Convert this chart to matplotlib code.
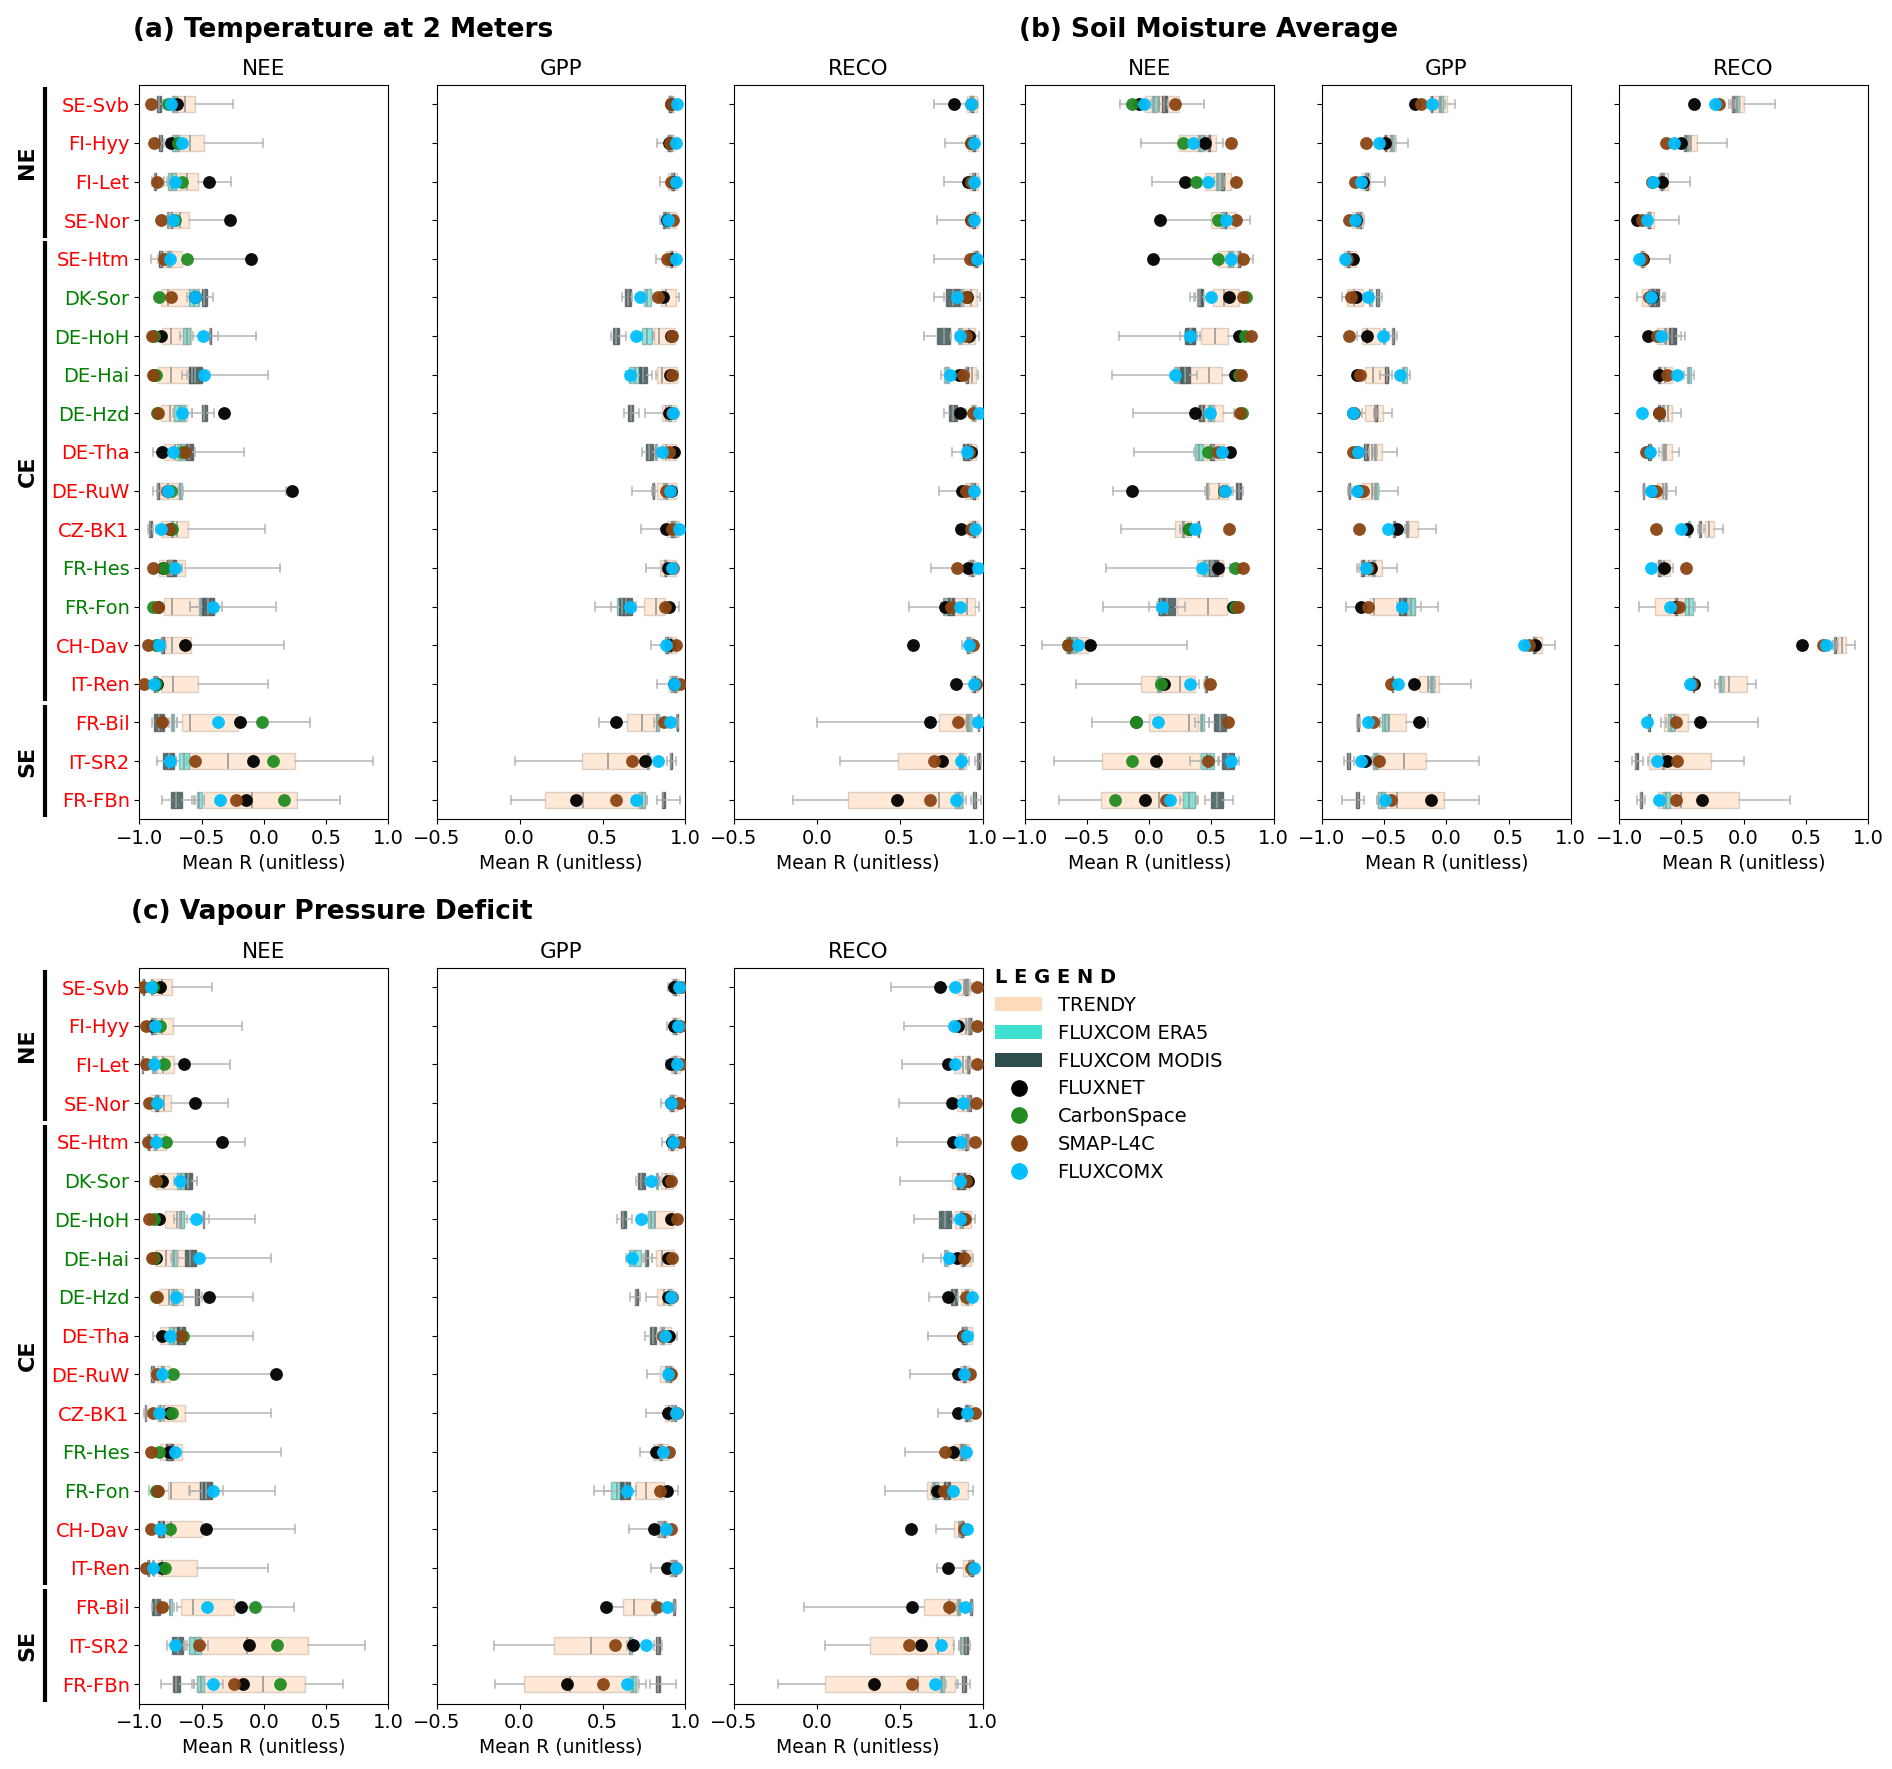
import matplotlib
matplotlib.use("Agg")
import matplotlib.pyplot as plt
from matplotlib.patches import Patch
from matplotlib.lines import Line2D
import matplotlib.transforms as mtransforms

# Sites (top to bottom) and label colours
sites = ['SE-Svb', 'FI-Hyy', 'FI-Let', 'SE-Nor', 'SE-Htm', 'DK-Sor', 'DE-HoH', 'DE-Hai', 'DE-Hzd',
         'DE-Tha', 'DE-RuW', 'CZ-BK1', 'FR-Hes', 'FR-Fon', 'CH-Dav', 'IT-Ren', 'FR-Bil', 'IT-SR2', 'FR-FBn']
site_colors = ['red', 'red', 'red', 'red', 'red', 'green', 'green', 'green', 'green',
               'red', 'red', 'red', 'green', 'green', 'red', 'red', 'red', 'red', 'red']
groups = [('NE', 0, 3), ('CE', 4, 15), ('SE', 16, 18)]

# ---------------- (a) Temperature at 2 Meters ----------------
# TRENDY boxes: (whisker low, q1, median, q3, whisker high)
T2M_NEE_TRENDY = [(-0.80, -0.73, -0.635, -0.55, -0.25), (-0.78, -0.73, -0.595, -0.48, -0.01),
                  (-0.80, -0.765, -0.615, -0.53, -0.26), (-0.80, -0.78, -0.675, -0.60, -0.30),
                  (-0.905, -0.84, -0.76, -0.655, -0.11), (-0.85, -0.83, -0.77, -0.60, -0.55),
                  (-0.85, -0.815, -0.745, -0.585, -0.06), (-0.88, -0.85, -0.75, -0.50, 0.03),
                  (-0.85, -0.83, -0.757, -0.62, -0.58), (-0.89, -0.80, -0.715, -0.57, -0.16),
                  (-0.89, -0.857, -0.77, -0.667, 0.175), (-0.87, -0.83, -0.70, -0.61, 0.01),
                  (-0.87, -0.84, -0.76, -0.635, 0.13), (-0.85, -0.80, -0.735, -0.40, 0.095),
                  (-0.93, -0.825, -0.735, -0.585, 0.16), (-0.88, -0.825, -0.73, -0.53, 0.035),
                  (-0.70, -0.66, -0.59, -0.21, 0.37), (-0.62, -0.60, -0.29, 0.25, 0.88),
                  (-0.55, -0.485, -0.095, 0.265, 0.615)]
# FLUXCOM boxes: (whisker low, q1, q3, whisker high)
T2M_NEE_ERA5 = [(-0.75, -0.74, -0.70, -0.69), (-0.75, -0.74, -0.68, -0.66), (-0.78, -0.77, -0.71, -0.70),
                (-0.79, -0.78, -0.76, -0.75), (-0.79, -0.78, -0.75, -0.74), (-0.62, -0.60, -0.52, -0.50),
                (-0.67, -0.65, -0.59, -0.57), (-0.62, -0.60, -0.55, -0.53), (-0.73, -0.72, -0.63, -0.62),
                (-0.71, -0.70, -0.635, -0.62), (-0.69, -0.68, -0.66, -0.65), (-0.76, -0.75, -0.73, -0.72),
                (-0.76, -0.75, -0.72, -0.71), (-0.59, -0.52, -0.49, -0.47), (-0.84, -0.83, -0.81, -0.80),
                (-0.88, -0.87, -0.85, -0.84), (-0.76, -0.745, -0.72, -0.70), (-0.71, -0.685, -0.605, -0.59),
                (-0.56, -0.54, -0.495, -0.48)]
T2M_NEE_MODIS = [(-0.87, -0.86, -0.825, -0.81), (-0.86, -0.84, -0.815, -0.80), (-0.90, -0.886, -0.87, -0.86),
                 (-0.75, -0.745, -0.735, -0.73), (-0.85, -0.84, -0.82, -0.81), (-0.53, -0.50, -0.46, -0.41),
                 (-0.44, -0.435, -0.425, -0.365), (-0.66, -0.60, -0.50, -0.48), (-0.58, -0.50, -0.455, -0.40),
                 (-0.65, -0.627, -0.57, -0.55), (-0.86, -0.855, -0.84, -0.83), (-0.93, -0.925, -0.90, -0.89),
                 (-0.80, -0.78, -0.71, -0.66), (-0.59, -0.50, -0.40, -0.34), (-0.82, -0.815, -0.80, -0.79),
                 (-0.89, -0.885, -0.875, -0.87), (-0.90, -0.88, -0.80, -0.79), (-0.86, -0.81, -0.72, -0.71),
                 (-0.815, -0.745, -0.66, -0.575)]
T2M_NEE_FLUXNET = [-0.70, -0.75, -0.44, -0.275, -0.10, -0.55, -0.825, -0.88, -0.32, -0.815,
                   0.23, -0.75, -0.81, -0.85, -0.63, -0.86, -0.195, -0.09, -0.14]
T2M_NEE_CS = [-0.77, -0.69, -0.655, -0.715, -0.62, -0.845, -0.88, -0.87, -0.86, -0.66,
              -0.745, -0.735, -0.80, -0.89, -0.865, -0.87, -0.015, 0.07, 0.16]
T2M_NEE_SMAP = [-0.905, -0.885, -0.86, -0.83, -0.80, -0.745, -0.90, -0.89, -0.85, -0.63,
                -0.78, -0.76, -0.89, -0.85, -0.93, -0.96, -0.815, -0.555, -0.225]
T2M_NEE_FX = [-0.75, -0.66, -0.715, -0.73, -0.755, -0.555, -0.49, -0.485, -0.66, -0.73,
              -0.77, -0.83, -0.715, -0.405, -0.84, -0.88, -0.365, -0.755, -0.35]

T2M_GPP_TRENDY = [(0.89, 0.895, 0.91, 0.93, 0.94), (0.83, 0.89, 0.91, 0.93, 0.94), (0.845, 0.895, 0.92, 0.95, 0.96),
                  (0.845, 0.867, 0.90, 0.943, 0.95), (0.82, 0.88, 0.91, 0.94, 0.95), (0.85, 0.852, 0.88, 0.943, 0.96),
                  (0.80, 0.813, 0.84, 0.935, 0.95), (0.82, 0.83, 0.86, 0.946, 0.955), (0.755, 0.857, 0.88, 0.943, 0.95),
                  (0.82, 0.857, 0.88, 0.943, 0.95), (0.68, 0.83, 0.87, 0.943, 0.95), (0.73, 0.89, 0.92, 0.96, 0.965),
                  (0.76, 0.845, 0.88, 0.943, 0.95), (0.70, 0.75, 0.82, 0.878, 0.96), (0.79, 0.88, 0.91, 0.943, 0.95),
                  (0.83, 0.90, 0.93, 0.955, 0.96), (0.48, 0.646, 0.74, 0.84, 0.93), (-0.028, 0.374, 0.533, 0.772, 0.79),
                  (-0.05, 0.152, 0.38, 0.754, 0.77)]
T2M_GPP_ERA5 = [(0.90, 0.905, 0.92, 0.925), (0.90, 0.905, 0.92, 0.925), (0.91, 0.915, 0.93, 0.935),
                (0.88, 0.885, 0.90, 0.905), (0.90, 0.905, 0.92, 0.925), (0.74, 0.75, 0.79, 0.80),
                (0.73, 0.74, 0.80, 0.81), (0.64, 0.66, 0.73, 0.75), (0.89, 0.895, 0.91, 0.915),
                (0.81, 0.815, 0.83, 0.835), (0.87, 0.875, 0.89, 0.895), (0.92, 0.925, 0.94, 0.945),
                (0.86, 0.87, 0.885, 0.89), (0.55, 0.59, 0.645, 0.66), (0.87, 0.875, 0.89, 0.895),
                (0.91, 0.915, 0.93, 0.935), (0.81, 0.82, 0.84, 0.85), (0.76, 0.77, 0.78, 0.79),
                (0.70, 0.72, 0.755, 0.77)]
T2M_GPP_MODIS = [(0.895, 0.90, 0.91, 0.915), (0.89, 0.895, 0.905, 0.91), (0.91, 0.92, 0.93, 0.935),
                 (0.86, 0.865, 0.875, 0.88), (0.905, 0.91, 0.92, 0.925), (0.62, 0.635, 0.67, 0.68),
                 (0.548, 0.565, 0.60, 0.64), (0.70, 0.72, 0.77, 0.80), (0.63, 0.655, 0.683, 0.72),
                 (0.74, 0.76, 0.805, 0.82), (0.80, 0.803, 0.81, 0.815), (0.91, 0.915, 0.925, 0.93),
                 (0.87, 0.875, 0.885, 0.89), (0.457, 0.60, 0.678, 0.69), (0.88, 0.885, 0.895, 0.90),
                 (0.93, 0.935, 0.945, 0.95), (0.945, 0.948, 0.953, 0.955), (0.89, 0.907, 0.92, 0.94),
                 (0.83, 0.86, 0.874, 0.97)]
T2M_GPP_FLUXNET = [0.91, 0.90, 0.93, 0.89, 0.91, 0.867, 0.91, 0.907, 0.90, 0.928,
                   0.91, 0.885, 0.895, 0.90, 0.907, 0.93, 0.58, 0.759, 0.341]
T2M_GPP_SMAP = [0.915, 0.905, 0.915, 0.925, 0.89, 0.837, 0.917, 0.917, 0.92, 0.90,
                0.88, 0.917, 0.924, 0.874, 0.945, 0.967, 0.87, 0.678, 0.58]
T2M_GPP_FX = [0.95, 0.94, 0.945, 0.895, 0.94, 0.726, 0.704, 0.663, 0.924, 0.857,
              0.907, 0.96, 0.917, 0.663, 0.88, 0.928, 0.907, 0.835, 0.70]

T2M_RECO_TRENDY = [(0.71, 0.907, 0.94, 0.965, 0.97), (0.776, 0.915, 0.94, 0.97, 0.975), (0.77, 0.92, 0.945, 0.975, 0.98),
                   (0.728, 0.92, 0.945, 0.97, 0.975), (0.71, 0.937, 0.955, 0.98, 0.985), (0.765, 0.88, 0.93, 0.965, 0.985),
                   (0.86, 0.885, 0.92, 0.957, 0.976), (0.87, 0.895, 0.935, 0.96, 0.97), (0.90, 0.932, 0.945, 0.96, 0.965),
                   (0.815, 0.885, 0.93, 0.96, 0.965), (0.737, 0.895, 0.93, 0.97, 0.975), (0.85, 0.92, 0.945, 0.975, 0.98),
                   (0.69, 0.91, 0.93, 0.957, 0.965), (0.554, 0.759, 0.907, 0.954, 0.98), (0.874, 0.90, 0.92, 0.945, 0.95),
                   (0.85, 0.93, 0.95, 0.975, 0.98), (0.0, 0.739, 0.907, 0.939, 0.95), (0.139, 0.493, 0.867, 0.902, 0.92),
                   (-0.141, 0.189, 0.739, 0.885, 0.90)]
T2M_RECO_ERA5 = [(0.92, 0.925, 0.94, 0.945), (0.93, 0.935, 0.95, 0.955), (0.93, 0.935, 0.95, 0.955),
                 (0.93, 0.935, 0.95, 0.955), (0.95, 0.955, 0.965, 0.97), (0.85, 0.863, 0.88, 0.89),
                 (0.84, 0.85, 0.875, 0.88), (0.75, 0.766, 0.80, 0.81), (0.94, 0.945, 0.955, 0.96),
                 (0.91, 0.915, 0.93, 0.935), (0.93, 0.935, 0.95, 0.955), (0.93, 0.935, 0.95, 0.955),
                 (0.92, 0.925, 0.94, 0.945), (0.75, 0.759, 0.79, 0.80), (0.91, 0.915, 0.925, 0.93),
                 (0.94, 0.945, 0.955, 0.96), (0.90, 0.907, 0.928, 0.935), (0.85, 0.86, 0.88, 0.885),
                 (0.82, 0.835, 0.878, 0.885)]
T2M_RECO_MODIS = [(0.93, 0.935, 0.945, 0.95), (0.94, 0.945, 0.955, 0.96), (0.94, 0.945, 0.955, 0.96),
                  (0.94, 0.945, 0.955, 0.96), (0.95, 0.955, 0.965, 0.97), (0.71, 0.78, 0.867, 0.875),
                  (0.65, 0.728, 0.804, 0.81), (0.89, 0.90, 0.913, 0.92), (0.765, 0.80, 0.846, 0.885),
                  (0.88, 0.885, 0.92, 0.925), (0.94, 0.945, 0.955, 0.96), (0.94, 0.945, 0.955, 0.96),
                  (0.93, 0.935, 0.945, 0.95), (0.78, 0.79, 0.83, 0.84), (0.90, 0.905, 0.915, 0.92),
                  (0.94, 0.945, 0.955, 0.96), (0.97, 0.972, 0.98, 0.985), (0.955, 0.967, 0.983, 0.99),
                  (0.93, 0.945, 0.96, 0.99)]
T2M_RECO_FLUXNET = [0.826, 0.93, 0.913, 0.93, 0.95, 0.907, 0.917, 0.859, 0.863, 0.928,
                    0.874, 0.87, 0.913, 0.772, 0.58, 0.841, 0.685, 0.754, 0.483]
T2M_RECO_SMAP = [0.93, 0.93, 0.93, 0.93, 0.922, 0.90, 0.90, 0.885, 0.94, 0.92,
                 0.90, 0.93, 0.848, 0.809, 0.94, 0.96, 0.852, 0.707, 0.685]
T2M_RECO_FX = [0.928, 0.95, 0.95, 0.95, 0.967, 0.846, 0.863, 0.804, 0.976, 0.907,
               0.95, 0.957, 0.972, 0.867, 0.917, 0.95, 0.972, 0.87, 0.841]

# ---------------- (b) Soil Moisture Average ----------------
SM_NEE_TRENDY = [(-0.235, -0.035, 0.08, 0.238, 0.44), (-0.068, 0.238, 0.45, 0.54, 0.595), (0.02, 0.446, 0.595, 0.654, 0.70),
                 (0.09, 0.50, 0.61, 0.697, 0.81), (0.027, 0.55, 0.66, 0.74, 0.83), (0.36, 0.51, 0.60, 0.724, 0.76),
                 (-0.243, 0.414, 0.527, 0.63, 0.72), (-0.30, 0.22, 0.48, 0.586, 0.676), (-0.127, 0.39, 0.50, 0.595, 0.68),
                 (-0.12, 0.386, 0.52, 0.60, 0.635), (-0.29, 0.454, 0.56, 0.635, 0.66), (-0.23, 0.21, 0.27, 0.332, 0.40),
                 (-0.346, 0.384, 0.50, 0.595, 0.65), (-0.373, 0.22, 0.473, 0.627, 0.68), (-0.86, -0.67, -0.58, -0.495, 0.30),
                 (-0.59, -0.068, 0.25, 0.365, 0.40), (-0.46, -0.005, 0.316, 0.39, 0.42), (-0.765, -0.378, 0.08, 0.41, 0.44),
                 (-0.724, -0.39, 0.08, 0.365, 0.38)]
SM_NEE_ERA5 = [(0.01, 0.02, 0.06, 0.07), (0.38, 0.39, 0.432, 0.44), (0.52, 0.535, 0.573, 0.585),
               (0.57, 0.58, 0.62, 0.63), (0.62, 0.63, 0.67, 0.68), (0.37, 0.385, 0.42, 0.43),
               (0.29, 0.30, 0.37, 0.38), (0.19, 0.20, 0.265, 0.275), (0.46, 0.47, 0.52, 0.53),
               (0.36, 0.37, 0.43, 0.44), (0.45, 0.46, 0.475, 0.48), (0.25, 0.26, 0.275, 0.28),
               (0.42, 0.43, 0.47, 0.48), (0.06, 0.07, 0.12, 0.135), (-0.64, -0.63, -0.60, -0.59),
               (0.05, 0.06, 0.095, 0.11), (0.37, 0.405, 0.44, 0.48), (0.33, 0.413, 0.52, 0.56),
               (0.25, 0.27, 0.365, 0.39)]
SM_NEE_MODIS = [(0.08, 0.10, 0.143, 0.15), (0.46, 0.473, 0.49, 0.50), (0.57, 0.576, 0.60, 0.61),
                (0.60, 0.605, 0.62, 0.625), (0.71, 0.715, 0.73, 0.735), (0.33, 0.39, 0.432, 0.44),
                (0.25, 0.29, 0.365, 0.41), (0.23, 0.25, 0.33, 0.386), (0.39, 0.40, 0.44, 0.45),
                (0.48, 0.486, 0.52, 0.53), (0.67, 0.70, 0.737, 0.75), (0.385, 0.39, 0.40, 0.405),
                (0.43, 0.48, 0.55, 0.60), (0.0, 0.08, 0.208, 0.29), (-0.68, -0.665, -0.64, -0.63),
                (0.44, 0.446, 0.465, 0.47), (0.48, 0.52, 0.62, 0.63), (0.55, 0.586, 0.684, 0.72),
                (0.45, 0.50, 0.59, 0.676)]
SM_NEE_FLUXNET = [-0.08, 0.446, 0.29, 0.09, 0.027, 0.64, 0.72, 0.69, 0.37, 0.65,
                  -0.143, 0.316, 0.554, 0.676, -0.478, 0.116, -0.108, 0.054, -0.035]
SM_NEE_CS = [-0.143, 0.27, 0.378, 0.554, 0.55, 0.78, 0.77, 0.72, 0.743, 0.473,
             0.60, 0.32, 0.69, 0.69, -0.65, 0.095, -0.11, -0.143, -0.278]
SM_NEE_SMAP = [0.208, 0.657, 0.697, 0.697, 0.75, 0.757, 0.82, 0.74, 0.73, 0.554,
               0.60, 0.643, 0.757, 0.71, -0.65, 0.486, 0.63, 0.473, 0.135]
SM_NEE_FX = [-0.04, 0.35, 0.468, 0.62, 0.66, 0.50, 0.33, 0.208, 0.49, 0.586,
             0.608, 0.365, 0.427, 0.103, -0.573, 0.324, 0.073, 0.654, 0.17]

SM_GPP_TRENDY = [(-0.14, -0.113, -0.05, 0.009, 0.067), (-0.52, -0.497, -0.44, -0.404, -0.308), (-0.70, -0.68, -0.64, -0.616, -0.497),
                 (-0.78, -0.759, -0.72, -0.666, -0.66), (-0.84, -0.826, -0.79, -0.73, -0.72), (-0.84, -0.80, -0.74, -0.666, -0.65),
                 (-0.72, -0.68, -0.637, -0.535, -0.50), (-0.70, -0.657, -0.587, -0.471, -0.46), (-0.68, -0.651, -0.57, -0.506, -0.433),
                 (-0.68, -0.66, -0.60, -0.52, -0.395), (-0.78, -0.686, -0.60, -0.555, -0.39), (-0.33, -0.323, -0.31, -0.23, -0.084),
                 (-0.72, -0.689, -0.62, -0.515, -0.395), (-0.81, -0.616, -0.578, -0.25, -0.07), (0.68, 0.70, 0.72, 0.773, 0.875),
                 (-0.25, -0.221, -0.148, -0.061, 0.198), (-0.53, -0.52, -0.462, -0.326, -0.148), (-0.60, -0.587, -0.337, -0.163, 0.265),
                 (-0.56, -0.549, -0.40, -0.017, 0.265)]
SM_GPP_ERA5 = [(-0.07, -0.055, -0.026, -0.01), (-0.46, -0.45, -0.42, -0.41), (-0.66, -0.655, -0.635, -0.63),
               (-0.72, -0.715, -0.70, -0.695), (-0.80, -0.795, -0.775, -0.77), (-0.63, -0.625, -0.60, -0.59),
               (-0.52, -0.51, -0.49, -0.48), (-0.38, -0.36, -0.317, -0.29), (-0.58, -0.575, -0.555, -0.55),
               (-0.59, -0.585, -0.565, -0.56), (-0.59, -0.58, -0.55, -0.54), (-0.33, -0.325, -0.31, -0.30),
               (-0.60, -0.595, -0.57, -0.565), (-0.33, -0.326, -0.25, -0.20), (0.69, 0.70, 0.715, 0.72),
               (-0.14, -0.128, -0.099, -0.09), (-0.53, -0.515, -0.47, -0.46), (-0.60, -0.587, -0.549, -0.54),
               (-0.56, -0.549, -0.491, -0.48)]
SM_GPP_MODIS = [(-0.13, -0.125, -0.115, -0.11), (-0.50, -0.495, -0.485, -0.48), (-0.65, -0.645, -0.63, -0.625),
                (-0.70, -0.695, -0.685, -0.68), (-0.80, -0.795, -0.785, -0.78), (-0.59, -0.564, -0.541, -0.515),
                (-0.46, -0.44, -0.42, -0.40), (-0.53, -0.49, -0.47, -0.44), (-0.58, -0.575, -0.56, -0.555),
                (-0.67, -0.66, -0.63, -0.62), (-0.79, -0.785, -0.775, -0.77), (-0.43, -0.425, -0.41, -0.405),
                (-0.70, -0.689, -0.66, -0.65), (-0.40, -0.38, -0.326, -0.30), (0.69, 0.70, 0.715, 0.72),
                (-0.44, -0.435, -0.425, -0.42), (-0.72, -0.715, -0.70, -0.695), (-0.82, -0.797, -0.773, -0.74),
                (-0.84, -0.724, -0.70, -0.66)]
SM_GPP_FLUXNET = [-0.253, -0.491, -0.67, -0.73, -0.747, -0.724, -0.64, -0.715, -0.75, -0.72,
                  -0.70, -0.398, -0.607, -0.686, 0.715, -0.259, -0.221, -0.651, -0.122]
SM_GPP_SMAP = [-0.206, -0.642, -0.738, -0.782, -0.80, -0.767, -0.782, -0.695, -0.74, -0.747,
               -0.67, -0.70, -0.63, -0.628, 0.666, -0.448, -0.593, -0.544, -0.448]
SM_GPP_FX = [-0.119, -0.544, -0.686, -0.738, -0.817, -0.63, -0.506, -0.375, -0.747, -0.709,
             -0.715, -0.471, -0.642, -0.36, 0.622, -0.39, -0.63, -0.686, -0.497]

SM_RECO_TRENDY = [(-0.12, -0.096, -0.05, 0.0, 0.253), (-0.47, -0.453, -0.42, -0.372, -0.131), (-0.69, -0.677, -0.64, -0.605, -0.43),
                  (-0.78, -0.773, -0.75, -0.721, -0.523), (-0.84, -0.831, -0.815, -0.794, -0.59), (-0.86, -0.817, -0.76, -0.677, -0.65),
                  (-0.72, -0.698, -0.63, -0.547, -0.50), (-0.72, -0.677, -0.63, -0.576, -0.55), (-0.67, -0.648, -0.61, -0.576, -0.503),
                  (-0.68, -0.663, -0.62, -0.576, -0.523), (-0.70, -0.692, -0.65, -0.619, -0.547), (-0.32, -0.308, -0.28, -0.241, -0.163),
                  (-0.70, -0.686, -0.64, -0.59, -0.57), (-0.843, -0.712, -0.547, -0.468, -0.285), (0.74, 0.762, 0.79, 0.82, 0.898),
                  (-0.233, -0.16, -0.12, 0.029, 0.099), (-0.66, -0.642, -0.55, -0.45, 0.116), (-0.77, -0.759, -0.648, -0.265, 0.006),
                  (-0.70, -0.686, -0.50, -0.038, 0.375)]
SM_RECO_ERA5 = [(-0.08, -0.07, -0.04, -0.03), (-0.46, -0.455, -0.44, -0.435), (-0.67, -0.665, -0.65, -0.645),
                (-0.77, -0.765, -0.75, -0.745), (-0.83, -0.825, -0.81, -0.805), (-0.76, -0.755, -0.74, -0.735),
                (-0.64, -0.635, -0.62, -0.615), (-0.48, -0.453, -0.424, -0.40), (-0.66, -0.655, -0.64, -0.635),
                (-0.65, -0.645, -0.635, -0.63), (-0.64, -0.635, -0.62, -0.615), (-0.45, -0.445, -0.43, -0.425),
                (-0.68, -0.675, -0.66, -0.655), (-0.48, -0.474, -0.407, -0.39), (0.72, 0.725, 0.745, 0.75),
                (-0.20, -0.198, -0.169, -0.16), (-0.62, -0.605, -0.561, -0.55), (-0.66, -0.655, -0.64, -0.635),
                (-0.66, -0.65, -0.59, -0.58)]
SM_RECO_MODIS = [(-0.10, -0.096, -0.075, -0.07), (-0.48, -0.475, -0.46, -0.455), (-0.67, -0.665, -0.655, -0.65),
                 (-0.77, -0.765, -0.755, -0.75), (-0.82, -0.815, -0.805, -0.80), (-0.76, -0.75, -0.677, -0.63),
                 (-0.61, -0.599, -0.547, -0.474), (-0.69, -0.685, -0.675, -0.67), (-0.69, -0.685, -0.67, -0.665),
                 (-0.77, -0.765, -0.745, -0.74), (-0.81, -0.805, -0.80, -0.795), (-0.37, -0.36, -0.345, -0.34),
                 (-0.70, -0.69, -0.67, -0.66), (-0.56, -0.555, -0.535, -0.53), (0.72, 0.73, 0.74, 0.745),
                 (-0.41, -0.405, -0.395, -0.39), (-0.77, -0.765, -0.752, -0.745), (-0.90, -0.875, -0.852, -0.81),
                 (-0.86, -0.835, -0.815, -0.79)]
SM_RECO_FLUXNET = [-0.401, -0.503, -0.657, -0.86, -0.808, -0.74, -0.765, -0.677, -0.677, -0.76,
                   -0.74, -0.453, -0.64, -0.55, 0.471, -0.401, -0.349, -0.619, -0.337]
SM_RECO_SMAP = [-0.198, -0.625, -0.735, -0.817, -0.82, -0.76, -0.692, -0.619, -0.68, -0.788,
                -0.70, -0.706, -0.459, -0.517, 0.637, -0.415, -0.547, -0.538, -0.547]
SM_RECO_FX = [-0.227, -0.561, -0.727, -0.779, -0.843, -0.744, -0.663, -0.532, -0.817, -0.75,
              -0.744, -0.503, -0.744, -0.59, 0.66, -0.43, -0.773, -0.692, -0.677]

# ---------------- (c) Vapour Pressure Deficit ----------------
VPD_NEE_TRENDY = [(-0.96, -0.878, -0.82, -0.735, -0.414), (-0.95, -0.87, -0.82, -0.73, -0.176), (-0.96, -0.865, -0.81, -0.72, -0.276),
                  (-0.93, -0.905, -0.80, -0.75, -0.29), (-0.94, -0.92, -0.86, -0.79, -0.15), (-0.914, -0.87, -0.80, -0.58, -0.54),
                  (-0.85, -0.797, -0.70, -0.643, -0.068), (-0.90, -0.873, -0.784, -0.546, 0.054), (-0.87, -0.846, -0.76, -0.649, -0.089),
                  (-0.89, -0.838, -0.72, -0.635, -0.089), (-0.87, -0.86, -0.80, -0.757, 0.08), (-0.90, -0.857, -0.80, -0.635, 0.06),
                  (-0.88, -0.832, -0.76, -0.654, 0.135), (-0.924, -0.77, -0.75, -0.419, 0.089), (-0.86, -0.784, -0.75, -0.50, 0.25),
                  (-0.92, -0.851, -0.82, -0.54, 0.035), (-0.70, -0.662, -0.568, -0.243, 0.243), (-0.62, -0.603, -0.135, 0.351, 0.81),
                  (-0.56, -0.535, -0.008, 0.33, 0.64)]
VPD_NEE_ERA5 = [(-0.92, -0.91, -0.89, -0.88), (-0.90, -0.89, -0.87, -0.86), (-0.91, -0.90, -0.87, -0.86),
                (-0.88, -0.875, -0.855, -0.85), (-0.89, -0.885, -0.865, -0.86), (-0.72, -0.70, -0.635, -0.62),
                (-0.72, -0.684, -0.643, -0.62), (-0.75, -0.74, -0.70, -0.69), (-0.76, -0.743, -0.695, -0.68),
                (-0.77, -0.76, -0.69, -0.68), (-0.83, -0.825, -0.81, -0.805), (-0.85, -0.845, -0.825, -0.82),
                (-0.77, -0.765, -0.745, -0.74), (-0.59, -0.51, -0.49, -0.47), (-0.84, -0.835, -0.81, -0.80),
                (-0.90, -0.895, -0.88, -0.875), (-0.78, -0.765, -0.738, -0.72), (-0.63, -0.603, -0.508, -0.45),
                (-0.56, -0.535, -0.478, -0.33)]
VPD_NEE_MODIS = [(-0.98, -0.975, -0.96, -0.955), (-0.91, -0.905, -0.89, -0.885), (-0.98, -0.978, -0.97, -0.965),
                 (-0.87, -0.865, -0.85, -0.845), (-0.94, -0.935, -0.925, -0.92), (-0.64, -0.635, -0.58, -0.54),
                 (-0.49, -0.488, -0.482, -0.44), (-0.70, -0.635, -0.546, -0.54), (-0.65, -0.554, -0.522, -0.50),
                 (-0.71, -0.70, -0.635, -0.63), (-0.91, -0.905, -0.885, -0.88), (-0.96, -0.955, -0.945, -0.94),
                 (-0.80, -0.79, -0.73, -0.72), (-0.60, -0.514, -0.419, -0.33), (-0.86, -0.85, -0.805, -0.79),
                 (-0.94, -0.935, -0.925, -0.92), (-0.90, -0.897, -0.838, -0.83), (-0.78, -0.738, -0.649, -0.64),
                 (-0.83, -0.73, -0.676, -0.575)]
VPD_NEE_FLUXNET = [-0.838, -0.90, -0.64, -0.554, -0.338, -0.816, -0.846, -0.865, -0.438, -0.816,
                   0.10, -0.765, -0.762, -0.86, -0.468, -0.816, -0.181, -0.122, -0.17]
VPD_NEE_CS = [-0.89, -0.832, -0.805, -0.87, -0.784, -0.87, -0.88, -0.88, -0.87, -0.649,
              -0.73, -0.735, -0.843, -0.87, -0.751, -0.797, -0.068, 0.103, 0.13]
VPD_NEE_SMAP = [-0.968, -0.946, -0.95, -0.92, -0.93, -0.865, -0.924, -0.897, -0.86, -0.662,
                -0.86, -0.89, -0.905, -0.851, -0.905, -0.946, -0.819, -0.522, -0.243]
VPD_NEE_FX = [-0.905, -0.878, -0.886, -0.86, -0.87, -0.676, -0.549, -0.519, -0.708, -0.757,
              -0.816, -0.846, -0.716, -0.405, -0.832, -0.892, -0.454, -0.711, -0.405]

VPD_GPP_TRENDY = [(0.896, 0.917, 0.94, 0.961, 0.965), (0.89, 0.917, 0.94, 0.967, 0.97), (0.88, 0.911, 0.94, 0.967, 0.97),
                  (0.852, 0.90, 0.93, 0.946, 0.95), (0.858, 0.896, 0.93, 0.954, 0.96), (0.84, 0.852, 0.88, 0.924, 0.93),
                  (0.80, 0.809, 0.815, 0.924, 0.972), (0.80, 0.824, 0.86, 0.928, 0.93), (0.765, 0.826, 0.87, 0.922, 0.93),
                  (0.82, 0.841, 0.87, 0.911, 0.95), (0.77, 0.846, 0.88, 0.924, 0.93), (0.765, 0.874, 0.90, 0.922, 0.93),
                  (0.728, 0.802, 0.84, 0.896, 0.905), (0.65, 0.693, 0.761, 0.87, 0.954), (0.657, 0.83, 0.86, 0.889, 0.90),
                  (0.791, 0.90, 0.93, 0.95, 0.955), (0.56, 0.624, 0.689, 0.824, 0.84), (-0.154, 0.207, 0.428, 0.678, 0.69),
                  (-0.148, 0.026, 0.302, 0.711, 0.72)]
VPD_GPP_ERA5 = [(0.92, 0.925, 0.94, 0.945), (0.92, 0.925, 0.94, 0.945), (0.92, 0.925, 0.94, 0.945),
                (0.90, 0.905, 0.92, 0.925), (0.90, 0.905, 0.92, 0.925), (0.81, 0.82, 0.837, 0.845),
                (0.77, 0.776, 0.809, 0.815), (0.64, 0.66, 0.733, 0.745), (0.89, 0.895, 0.91, 0.915),
                (0.85, 0.855, 0.87, 0.875), (0.88, 0.885, 0.90, 0.905), (0.91, 0.915, 0.93, 0.935),
                (0.84, 0.845, 0.86, 0.865), (0.446, 0.55, 0.624, 0.64), (0.83, 0.835, 0.85, 0.855),
                (0.91, 0.915, 0.93, 0.935), (0.80, 0.81, 0.824, 0.83), (0.65, 0.657, 0.678, 0.685),
                (0.65, 0.663, 0.704, 0.765)]
VPD_GPP_MODIS = [(0.93, 0.935, 0.945, 0.95), (0.93, 0.935, 0.945, 0.95), (0.93, 0.935, 0.945, 0.95),
                 (0.91, 0.915, 0.925, 0.93), (0.91, 0.915, 0.925, 0.93), (0.70, 0.715, 0.754, 0.76),
                 (0.586, 0.613, 0.639, 0.675), (0.75, 0.754, 0.776, 0.80), (0.665, 0.696, 0.711, 0.725),
                 (0.755, 0.787, 0.82, 0.83), (0.90, 0.905, 0.915, 0.92), (0.93, 0.935, 0.945, 0.95),
                 (0.84, 0.845, 0.855, 0.86), (0.51, 0.607, 0.663, 0.70), (0.86, 0.865, 0.875, 0.88),
                 (0.93, 0.935, 0.945, 0.95), (0.92, 0.925, 0.935, 0.94), (0.81, 0.824, 0.846, 0.86),
                 (0.785, 0.82, 0.848, 0.94)]
VPD_GPP_FLUXNET = [0.928, 0.933, 0.911, 0.915, 0.92, 0.896, 0.911, 0.896, 0.896, 0.90,
                   0.905, 0.896, 0.824, 0.891, 0.813, 0.889, 0.52, 0.685, 0.283]
VPD_GPP_SMAP = [0.972, 0.967, 0.972, 0.961, 0.967, 0.913, 0.946, 0.917, 0.92, 0.863,
                0.91, 0.95, 0.90, 0.848, 0.913, 0.94, 0.83, 0.576, 0.504]
VPD_GPP_FX = [0.961, 0.957, 0.946, 0.913, 0.924, 0.793, 0.733, 0.678, 0.911, 0.874,
              0.896, 0.943, 0.867, 0.646, 0.88, 0.943, 0.889, 0.761, 0.65]

VPD_RECO_TRENDY = [(0.45, 0.852, 0.89, 0.922, 0.93), (0.526, 0.859, 0.90, 0.939, 0.945), (0.515, 0.83, 0.88, 0.922, 0.93),
                   (0.498, 0.846, 0.88, 0.911, 0.92), (0.487, 0.846, 0.88, 0.917, 0.925), (0.504, 0.815, 0.87, 0.922, 0.93),
                   (0.80, 0.835, 0.88, 0.933, 0.955), (0.641, 0.867, 0.90, 0.933, 0.945), (0.80, 0.87, 0.90, 0.935, 0.94),
                   (0.674, 0.874, 0.90, 0.939, 0.945), (0.565, 0.863, 0.89, 0.926, 0.935), (0.733, 0.90, 0.92, 0.939, 0.945),
                   (0.533, 0.824, 0.87, 0.917, 0.925), (0.411, 0.663, 0.70, 0.911, 0.945), (0.722, 0.826, 0.86, 0.891, 0.90),
                   (0.728, 0.885, 0.92, 0.946, 0.95), (-0.076, 0.646, 0.80, 0.867, 0.875), (0.052, 0.324, 0.733, 0.82, 0.83),
                   (-0.235, 0.052, 0.609, 0.835, 0.845)]
VPD_RECO_ERA5 = [(0.90, 0.905, 0.915, 0.92), (0.91, 0.915, 0.925, 0.93), (0.90, 0.905, 0.915, 0.92),
                 (0.90, 0.905, 0.915, 0.92), (0.90, 0.905, 0.915, 0.92), (0.87, 0.875, 0.89, 0.895),
                 (0.86, 0.865, 0.88, 0.885), (0.75, 0.765, 0.791, 0.80), (0.90, 0.905, 0.915, 0.92),
                 (0.89, 0.895, 0.905, 0.91), (0.88, 0.885, 0.90, 0.905), (0.91, 0.915, 0.925, 0.93),
                 (0.88, 0.885, 0.90, 0.905), (0.69, 0.70, 0.73, 0.74), (0.86, 0.865, 0.88, 0.885),
                 (0.92, 0.925, 0.935, 0.94), (0.84, 0.846, 0.867, 0.875), (0.86, 0.865, 0.88, 0.885),
                 (0.73, 0.743, 0.77, 0.78)]
VPD_RECO_MODIS = [(0.89, 0.895, 0.905, 0.91), (0.915, 0.92, 0.93, 0.935), (0.905, 0.91, 0.92, 0.925),
                  (0.915, 0.92, 0.93, 0.935), (0.89, 0.895, 0.905, 0.91), (0.84, 0.846, 0.896, 0.90),
                  (0.587, 0.739, 0.813, 0.82), (0.87, 0.874, 0.891, 0.90), (0.678, 0.809, 0.846, 0.85),
                  (0.87, 0.875, 0.90, 0.905), (0.88, 0.885, 0.895, 0.90), (0.89, 0.895, 0.905, 0.91),
                  (0.86, 0.865, 0.875, 0.88), (0.76, 0.765, 0.804, 0.81), (0.865, 0.87, 0.88, 0.885),
                  (0.925, 0.93, 0.94, 0.945), (0.92, 0.925, 0.935, 0.94), (0.86, 0.889, 0.911, 0.925),
                  (0.85, 0.874, 0.902, 0.925)]
VPD_RECO_FLUXNET = [0.743, 0.852, 0.793, 0.815, 0.82, 0.911, 0.89, 0.846, 0.791, 0.885,
                    0.852, 0.852, 0.82, 0.728, 0.57, 0.791, 0.576, 0.628, 0.348]
VPD_RECO_SMAP = [0.965, 0.965, 0.965, 0.961, 0.956, 0.90, 0.896, 0.889, 0.90, 0.89,
                 0.922, 0.956, 0.776, 0.765, 0.89, 0.928, 0.798, 0.559, 0.576]
VPD_RECO_FX = [0.837, 0.83, 0.837, 0.88, 0.867, 0.867, 0.863, 0.798, 0.935, 0.907,
               0.89, 0.907, 0.90, 0.82, 0.907, 0.946, 0.896, 0.75, 0.711]

C_TRENDY = 'peachpuff'
C_ERA5 = 'turquoise'
C_MODIS = 'darkslategray'
C_FLUXNET = 'black'
C_CS = 'forestgreen'
C_SMAP = 'saddlebrown'
C_FX = 'deepskyblue'


def to_stats(rows):
    stats = []
    for r in rows:
        if len(r) == 5:
            lo, q1, med, q3, hi = r
        else:
            lo, q1, q3, hi = r
            med = (q1 + q3) / 2
        stats.append({'whislo': lo, 'q1': q1, 'med': med, 'q3': q3, 'whishi': hi, 'fliers': []})
    return stats


def draw_boxes(ax, rows, face, alpha, edge):
    ax.bxp(to_stats(rows), positions=range(len(rows)), widths=0.42, orientation='horizontal',
           patch_artist=True, showfliers=False, manage_ticks=False,
           boxprops=dict(facecolor=face, edgecolor=edge, alpha=alpha, linewidth=1),
           whiskerprops=dict(color='#b5b5b5', linewidth=1.1),
           capprops=dict(color='#b5b5b5', linewidth=1.1),
           medianprops=dict(color='#999999', linewidth=1.2))


def draw_panel(ax, trendy, era5, modis, fluxnet, smap, fx, cs=None):
    pos = list(range(len(sites)))
    draw_boxes(ax, trendy, C_TRENDY, 0.6, '#c8b8a8')
    draw_boxes(ax, era5, C_ERA5, 0.65, '#7a9a98')
    draw_boxes(ax, modis, C_MODIS, 0.8, '#555555')
    ax.scatter(fluxnet, pos, s=85, color=C_FLUXNET, zorder=4, linewidths=0, alpha=0.95)
    if cs is not None:
        ax.scatter(cs, pos, s=85, color=C_CS, zorder=4, linewidths=0, alpha=0.95)
    ax.scatter(smap, pos, s=85, color=C_SMAP, zorder=4, linewidths=0, alpha=0.95)
    ax.scatter(fx, pos, s=85, color=C_FX, zorder=4, linewidths=0, alpha=0.95)
    ax.set_ylim(len(sites) - 0.5, -0.5)
    ax.set_yticks(pos)
    ax.set_xlabel('Mean R (unitless)', fontsize=13.5)
    ax.tick_params(labelsize=14)


def label_sites(ax):
    ax.set_yticklabels(sites, fontsize=14)
    for lab, c in zip(ax.get_yticklabels(), site_colors):
        lab.set_color(c)
    trans = mtransforms.blended_transform_factory(ax.transAxes, ax.transData)
    for name, a, b in groups:
        ax.plot([-0.38, -0.38], [a - 0.45, b + 0.45], color='black', lw=3,
                transform=trans, clip_on=False, solid_capstyle='butt')
        ax.text(-0.45, (a + b) / 2, name, rotation=90, ha='center', va='center',
                fontsize=16, fontweight='bold', transform=trans)


fig = plt.figure(figsize=(18.92, 17.69), dpi=100)
lefts = [0.0737, 0.2308, 0.3878, 0.5417, 0.6987, 0.8558]
w = 0.1315
row1_b, row1_h = 0.537, 0.415
row2_b, row2_h = 0.037, 0.416

panels_top = [
    ('NEE', T2M_NEE_TRENDY, T2M_NEE_ERA5, T2M_NEE_MODIS, T2M_NEE_FLUXNET, T2M_NEE_SMAP, T2M_NEE_FX, T2M_NEE_CS, (-1, 1)),
    ('GPP', T2M_GPP_TRENDY, T2M_GPP_ERA5, T2M_GPP_MODIS, T2M_GPP_FLUXNET, T2M_GPP_SMAP, T2M_GPP_FX, None, (-0.5, 1)),
    ('RECO', T2M_RECO_TRENDY, T2M_RECO_ERA5, T2M_RECO_MODIS, T2M_RECO_FLUXNET, T2M_RECO_SMAP, T2M_RECO_FX, None, (-0.5, 1)),
    ('NEE', SM_NEE_TRENDY, SM_NEE_ERA5, SM_NEE_MODIS, SM_NEE_FLUXNET, SM_NEE_SMAP, SM_NEE_FX, SM_NEE_CS, (-1, 1)),
    ('GPP', SM_GPP_TRENDY, SM_GPP_ERA5, SM_GPP_MODIS, SM_GPP_FLUXNET, SM_GPP_SMAP, SM_GPP_FX, None, (-1, 1)),
    ('RECO', SM_RECO_TRENDY, SM_RECO_ERA5, SM_RECO_MODIS, SM_RECO_FLUXNET, SM_RECO_SMAP, SM_RECO_FX, None, (-1, 1)),
]
panels_bottom = [
    ('NEE', VPD_NEE_TRENDY, VPD_NEE_ERA5, VPD_NEE_MODIS, VPD_NEE_FLUXNET, VPD_NEE_SMAP, VPD_NEE_FX, VPD_NEE_CS, (-1, 1)),
    ('GPP', VPD_GPP_TRENDY, VPD_GPP_ERA5, VPD_GPP_MODIS, VPD_GPP_FLUXNET, VPD_GPP_SMAP, VPD_GPP_FX, None, (-0.5, 1)),
    ('RECO', VPD_RECO_TRENDY, VPD_RECO_ERA5, VPD_RECO_MODIS, VPD_RECO_FLUXNET, VPD_RECO_SMAP, VPD_RECO_FX, None, (-0.5, 1)),
]

for i, p in enumerate(panels_top):
    ax = fig.add_axes([lefts[i], row1_b, w, row1_h])
    name, tr, e5, md, fn, sm, fx, cs, xl = p
    draw_panel(ax, tr, e5, md, fn, sm, fx, cs)
    ax.set_xlim(*xl)
    ax.set_title(name, fontsize=15.5, pad=7)
    if i == 0:
        label_sites(ax)
    else:
        ax.set_yticklabels([])

for i, p in enumerate(panels_bottom):
    ax = fig.add_axes([lefts[i], row2_b, w, row2_h])
    name, tr, e5, md, fn, sm, fx, cs, xl = p
    draw_panel(ax, tr, e5, md, fn, sm, fx, cs)
    ax.set_xlim(*xl)
    ax.set_title(name, fontsize=15.5, pad=7)
    if i == 0:
        label_sites(ax)
    else:
        ax.set_yticklabels([])

fig.text(0.0703, 0.983, '(a) Temperature at 2 Meters', fontsize=19, fontweight='bold', va='center')
fig.text(0.5386, 0.983, '(b) Soil Moisture Average', fontsize=19, fontweight='bold', va='center')
fig.text(0.0692, 0.4845, '(c) Vapour Pressure Deficit', fontsize=19, fontweight='bold', va='center')

handles = [Patch(facecolor=C_TRENDY, label='TRENDY'),
           Patch(facecolor=C_ERA5, label='FLUXCOM ERA5'),
           Patch(facecolor=C_MODIS, label='FLUXCOM MODIS'),
           Line2D([], [], marker='o', ls='', color=C_FLUXNET, markersize=11, label='FLUXNET'),
           Line2D([], [], marker='o', ls='', color=C_CS, markersize=11, label='CarbonSpace'),
           Line2D([], [], marker='o', ls='', color=C_SMAP, markersize=11, label='SMAP-L4C'),
           Line2D([], [], marker='o', ls='', color=C_FX, markersize=11, label='FLUXCOMX')]
fig.legend(handles=handles, loc='upper left', bbox_to_anchor=(0.522, 0.457), frameon=False,
           fontsize=14, title='L E G E N D', title_fontproperties={'weight': 'bold', 'size': 14},
           alignment='left', handlelength=2.4, handleheight=0.7, labelspacing=0.45, borderaxespad=0)

fig.savefig('out.png', dpi=100)
